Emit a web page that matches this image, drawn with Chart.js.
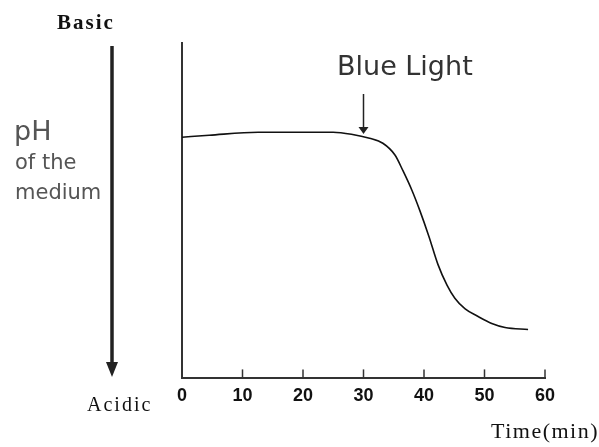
<!DOCTYPE html>
<html>
<head>
<meta charset="utf-8">
<script src="https://cdn.jsdelivr.net/npm/chart.js@4"></script>
<style>
  html, body { margin: 0; padding: 0; background: #fff; }
  #wrap { width: 599px; height: 447px; }
</style>
</head>
<body>
<div id="wrap"><canvas id="phChart" width="599" height="447"></canvas></div>
<script>
// time (min) and relative pH of the medium
const times = [0, 4.5, 12.6, 25, 28, 31, 33.2, 35.2, 36.5, 38, 39.3, 40.8, 42.3, 43.8, 45.1, 46.8, 48.8, 51.2, 53.4, 57.2];
const phValues = [7.19, 7.25, 7.34, 7.34, 7.28, 7.16, 7.01, 6.66, 6.2, 5.61, 5.01, 4.24, 3.4, 2.78, 2.39, 2.07, 1.86, 1.64, 1.52, 1.46];
const xTicks = [0, 10, 20, 30, 40, 50, 60];
const lightOn = 30;
const lightPh = 7.2;

// extra drawing: small upward ticks, side arrow and labels
const decorations = {
  id: "decorations",
  afterDraw: (chart) => {
    const ctx = chart.ctx;
    const x = chart.scales.x;
    const y = chart.scales.y;
    const area = chart.chartArea;
    ctx.save();

    // ticks pointing up from the time axis
    ctx.strokeStyle = "#333";
    ctx.lineWidth = 1.5;
    xTicks.forEach((t) => {
      if (t === 0) return;
      const px = x.getPixelForValue(t);
      ctx.beginPath();
      ctx.moveTo(px, area.bottom);
      ctx.lineTo(px, area.bottom - 9);
      ctx.stroke();
    });

    // Basic -> Acidic arrow
    ctx.strokeStyle = "#222";
    ctx.lineWidth = 3.5;
    ctx.beginPath();
    ctx.moveTo(112, 46);
    ctx.lineTo(112, 366);
    ctx.stroke();
    ctx.fillStyle = "#222";
    ctx.beginPath();
    ctx.moveTo(106, 362);
    ctx.lineTo(118, 362);
    ctx.lineTo(112, 377);
    ctx.closePath();
    ctx.fill();

    ctx.fillStyle = "#111";
    ctx.textBaseline = "middle";
    ctx.textAlign = "left";
    ctx.letterSpacing = "2px";
    ctx.font = "bold 21px 'Liberation Serif'";
    ctx.fillText("Basic", 57, 24);
    ctx.font = "20px 'Liberation Serif'";
    ctx.fillText("Acidic", 87, 406);
    ctx.letterSpacing = "1.5px";
    ctx.font = "22px 'Liberation Serif'";
    ctx.fillText("Time(min)", 491, 432);
    ctx.letterSpacing = "0px";

    ctx.fillStyle = "#555";
    ctx.font = "27px 'DejaVu Sans'";
    ctx.fillText("pH", 14, 133);
    ctx.font = "21px 'DejaVu Sans'";
    ctx.fillText("of the", 15, 164);
    ctx.fillText("medium", 15, 194);

    // Blue Light marker
    ctx.fillStyle = "#333";
    ctx.font = "27px 'DejaVu Sans'";
    ctx.fillText("Blue Light", 337, 68);
    const lx = x.getPixelForValue(lightOn);
    const ly = y.getPixelForValue(lightPh);
    ctx.strokeStyle = "#222";
    ctx.lineWidth = 1.5;
    ctx.beginPath();
    ctx.moveTo(lx, 94);
    ctx.lineTo(lx, ly - 5);
    ctx.stroke();
    ctx.fillStyle = "#222";
    ctx.beginPath();
    ctx.moveTo(lx - 5, ly - 10);
    ctx.lineTo(lx + 5, ly - 10);
    ctx.lineTo(lx, ly - 3);
    ctx.closePath();
    ctx.fill();

    ctx.restore();
  },
};

const ctx = document.getElementById("phChart").getContext("2d");
const phChart = new Chart(ctx, {
  type: "line",
  data: {
    datasets: [
      {
        label: "pH",
        data: times.map((t, i) => ({ x: t, y: phValues[i] })),
        borderColor: "#111",
        borderWidth: 1.6,
        pointRadius: 0,
        fill: false,
        cubicInterpolationMode: "monotone",
      },
    ],
  },
  plugins: [decorations],
  options: {
    responsive: false,
    animation: false,
    layout: {
      padding: { left: 182, right: 54, top: 43, bottom: 33 },
    },
    plugins: {
      legend: { display: false },
      tooltip: { enabled: false },
    },
    scales: {
      x: {
        type: "linear",
        min: 0,
        max: 60,
        afterBuildTicks: (scale) => {
          scale.ticks = xTicks.map((v) => ({ value: v }));
        },
        grid: { display: false, drawTicks: false },
        border: { display: true, color: "#333", width: 2 },
        ticks: {
          color: "#111",
          padding: 7,
          font: { family: "'Liberation Sans Narrow', 'Liberation Sans'", size: 18, weight: "bold" },
        },
      },
      y: {
        min: 0,
        max: 10,
        grid: { display: false, drawTicks: false },
        border: { display: true, color: "#333", width: 2 },
        ticks: { display: false },
      },
    },
  },
});
</script>
</body>
</html>
